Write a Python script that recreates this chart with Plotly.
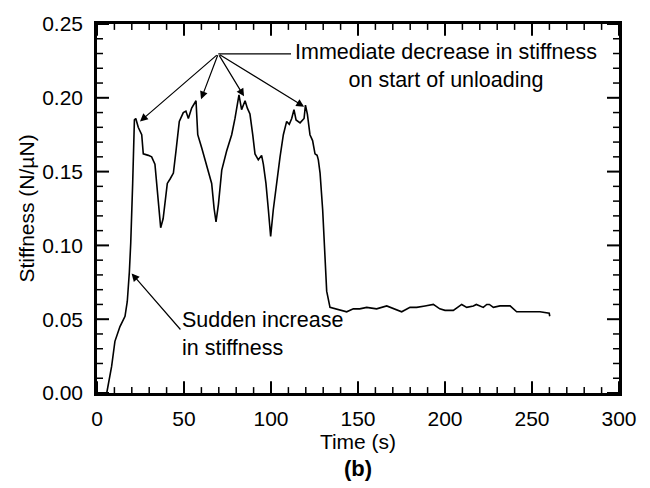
import plotly.graph_objects as go

# Stiffness record during the loading / unloading cycles
time_s = [
    5.6, 8.4, 10.3, 13.2, 16.1, 17.4, 18.6, 19.4, 20.5, 21.5, 22.3, 23.7, 25.7, 26.6,
    29.5, 31.4, 33.3, 34.3, 35.5, 36.6, 38.0, 39.1, 40.4, 42.0, 43.9, 45.4, 47.3,
    49.6, 51.1, 52.5, 54.4, 56.9, 57.9, 60.2, 63.0, 65.9, 67.3, 68.4, 69.8, 71.7,
    74.5, 77.4, 79.3, 81.6, 83.1, 85.1, 86.4, 87.9, 89.5, 90.8, 92.7, 94.6, 95.6,
    97.1, 98.5, 99.8, 101.3, 103.3, 105.2, 107.1, 109.0, 110.5, 111.9, 113.2,
    114.4, 116.7, 119.0, 119.8, 120.9, 122.4, 123.9, 125.3, 126.5, 127.2, 128.2,
    129.7, 131.0, 132.0, 133.9, 136.8, 140.0, 143.5, 147.3, 151.0, 155.0, 160.7,
    166.5, 171.0, 175.1, 179.9, 183.7, 188.5, 193.3, 197.0, 200.0, 204.8, 209.6,
    212.5, 216.3, 218.0, 220.1, 222.0, 224.0, 225.5, 227.8, 231.6, 237.4, 241.2,
    244.0, 247.0, 250.7, 254.6, 259.9, 260.2,
]
stiffness = [
    0.000, 0.018, 0.035, 0.045, 0.052, 0.062, 0.082, 0.102, 0.142, 0.185, 0.186,
    0.180, 0.175, 0.162, 0.161, 0.160, 0.155, 0.142, 0.125, 0.112, 0.118, 0.129,
    0.142, 0.145, 0.149, 0.164, 0.184, 0.190, 0.191, 0.186, 0.193, 0.198, 0.175,
    0.166, 0.155, 0.142, 0.125, 0.116, 0.128, 0.151, 0.164, 0.175, 0.186, 0.202,
    0.192, 0.198, 0.193, 0.189, 0.175, 0.162, 0.158, 0.161, 0.155, 0.142, 0.124,
    0.106, 0.124, 0.144, 0.160, 0.175, 0.184, 0.182, 0.186, 0.192, 0.185, 0.183,
    0.186, 0.195, 0.189, 0.175, 0.171, 0.162, 0.161, 0.158, 0.149, 0.124, 0.090,
    0.069, 0.058, 0.057, 0.056, 0.055, 0.057, 0.057, 0.058, 0.057, 0.059, 0.057,
    0.055, 0.058, 0.058, 0.059, 0.060, 0.057, 0.056, 0.056, 0.060, 0.058, 0.059,
    0.060, 0.059, 0.058, 0.060, 0.060, 0.058, 0.059, 0.059, 0.055, 0.055, 0.055,
    0.055, 0.055, 0.054, 0.052,
]

# Axis tick positions
x_major_ticks = [0, 50, 100, 150, 200, 250, 300]
x_minor_ticks = [v for v in range(10, 300, 10) if v % 50]
y_major_ticks = [0.00, 0.05, 0.10, 0.15, 0.20, 0.25]
y_minor_ticks = [k / 100 for k in range(1, 25) if k % 5]

# Callout geometry (data units)
unload_hub = (69.7, 0.2298)
unload_line_end = 111.5
unload_tips = [(24.7, 0.184), (59.8, 0.199), (84.5, 0.201), (119.0, 0.194)]
unload_text = "Immediate decrease in stiffness<br>on start of unloading"
unload_text_pos = (200.6, 0.2217)

sudden_tip = (19.9, 0.081)
sudden_tail = (48.7, 0.042)
sudden_text = "Sudden increase<br>in stiffness"
sudden_text_pos = (47.8, 0.040)

x_title = "Time (s)"
y_title = "Stiffness (N/µN)"
panel_label = "<b>(b)</b>"

FONT = "Liberation Sans, Arial, sans-serif"
W, H = 650, 488
MARGIN = dict(l=97, r=31, t=18, b=95)
X_RANGE = [0, 300]
Y_RANGE = [0, 0.25]
PLOT_W = W - MARGIN["l"] - MARGIN["r"]
PLOT_H = H - MARGIN["t"] - MARGIN["b"]
MAJOR_LEN, MINOR_LEN = 12, 6

# pixel -> data conversion for tick lengths
px_x = (X_RANGE[1] - X_RANGE[0]) / PLOT_W
px_y = (Y_RANGE[1] - Y_RANGE[0]) / PLOT_H

fig = go.Figure()
fig.add_trace(go.Scatter(
    x=time_s, y=stiffness, mode="lines",
    line=dict(color="black", width=1.6),
    showlegend=False, hoverinfo="skip",
))


def tick_segments(x_vals, y_vals, length):
    """Inward tick segments on all four sides, as one None-separated path."""
    xs, ys = [], []
    dy = length * px_y
    dx = length * px_x
    for v in x_vals:
        xs += [v, v, None, v, v, None]
        ys += [Y_RANGE[0], Y_RANGE[0] + dy, None, Y_RANGE[1], Y_RANGE[1] - dy, None]
    for v in y_vals:
        xs += [X_RANGE[0], X_RANGE[0] + dx, None, X_RANGE[1], X_RANGE[1] - dx, None]
        ys += [v, v, None, v, v, None]
    return xs, ys


for vals_x, vals_y, length, width in (
    (x_major_ticks, y_major_ticks, MAJOR_LEN, 2.0),
    (x_minor_ticks, y_minor_ticks, MINOR_LEN, 1.5),
):
    tx, ty = tick_segments(vals_x, vals_y, length)
    fig.add_trace(go.Scatter(
        x=tx, y=ty, mode="lines", line=dict(color="black", width=width),
        connectgaps=False, showlegend=False, hoverinfo="skip", cliponaxis=False,
    ))

fonts = dict(
    tickfont=dict(family=FONT, size=21, color="black"),
    title_font=dict(family=FONT, size=21, color="black"),
)
fig.update_xaxes(
    range=X_RANGE, tickmode="array", tickvals=x_major_ticks,
    ticks="", showgrid=False, zeroline=False,
    showline=True, linecolor="black", linewidth=2.5, mirror=True,
    ticklabelstandoff=5,
    title_text=x_title, title_standoff=0, **fonts,
)
fig.update_yaxes(
    range=Y_RANGE, tickmode="array", tickvals=y_major_ticks, tickformat=".2f",
    ticks="", showgrid=False, zeroline=False,
    showline=True, linecolor="black", linewidth=2.5, mirror=True,
    ticklabelstandoff=7,
    title_text=y_title, title_standoff=2, **fonts,
)

# Callout: start of unloading
fig.add_shape(
    type="line", xref="x", yref="y",
    x0=unload_hub[0], y0=unload_hub[1], x1=unload_line_end, y1=unload_hub[1],
    line=dict(color="black", width=1.3),
)
for tx, ty in unload_tips:
    fig.add_annotation(
        x=tx, y=ty, ax=unload_hub[0], ay=unload_hub[1], axref="x", ayref="y",
        xref="x", yref="y", text="", showarrow=True,
        arrowhead=2, arrowsize=1.3, arrowwidth=1.2, arrowcolor="black",
    )
fig.add_annotation(
    x=unload_text_pos[0], y=unload_text_pos[1], xref="x", yref="y",
    text=unload_text, showarrow=False, align="center",
    xanchor="center", yanchor="middle",
    font=dict(family=FONT, size=21.5, color="black"),
)

# Callout: sudden increase
fig.add_annotation(
    x=sudden_tip[0], y=sudden_tip[1], ax=sudden_tail[0], ay=sudden_tail[1],
    axref="x", ayref="y", xref="x", yref="y", text="", showarrow=True,
    arrowhead=2, arrowsize=1.3, arrowwidth=1.2, arrowcolor="black",
)
fig.add_annotation(
    x=sudden_text_pos[0], y=sudden_text_pos[1], xref="x", yref="y",
    text=sudden_text, showarrow=False, align="left",
    xanchor="left", yanchor="middle",
    font=dict(family=FONT, size=21.5, color="black"),
)

fig.add_annotation(
    x=0.5, y=-0.205, xref="paper", yref="paper", text=panel_label,
    showarrow=False, xanchor="center", yanchor="middle",
    font=dict(family=FONT, size=22, color="black"),
)

fig.update_layout(
    width=W, height=H, margin=MARGIN,
    paper_bgcolor="white", plot_bgcolor="white",
    font=dict(family=FONT, color="black"),
)

fig.write_html("out.html")
